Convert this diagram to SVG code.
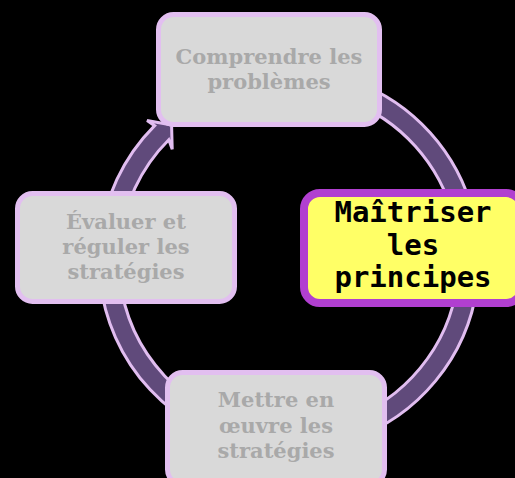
<svg xmlns="http://www.w3.org/2000/svg" width="515" height="478" viewBox="0 0 515 478">
<style>
.arrow{fill:#604a7b;stroke:#e1bdf0;stroke-width:3;stroke-linejoin:miter}
.box{fill:#d9d9d9;stroke:#e2bff0;stroke-width:5}
.lbl{font-family:"DejaVu Serif","Liberation Serif",serif;font-weight:bold;font-size:21px;fill:#a9a9a9;text-anchor:middle}
.hbox{fill:#ffff66;stroke:#b13fd0;stroke-width:8}
.hlbl{font-family:"DejaVu Sans Mono","Liberation Mono",monospace;font-weight:bold;font-size:29px;fill:#000;text-anchor:middle}
</style>
<rect width="515" height="478" fill="#000"/>
<g id="connectors">
<path class="arrow" d="M99.72 243.44 A190 190 0 0 1 154.65 125.65 L147.06 120.52 L171.57 124.91 L172.22 149.18 L168.79 139.79 A170 170 0 0 0 119.65 245.18 Z"/>
<path class="arrow" d="M353.98 81.46 A190 190 0 0 1 473.36 214.04 L481.66 210.17 L465.28 228.92 L444.14 216.97 L453.95 218.87 A170 170 0 0 0 347.14 100.25 Z"/>
<path class="arrow" d="M477.15 286.44 A190 190 0 0 1 350.86 439.65 L355.43 447.59 L335.33 432.90 L345.38 410.80 L344.35 420.74 A170 170 0 0 0 457.35 283.66 Z"/>
<path class="arrow" d="M256.01 447.11 A190 190 0 0 1 100.04 279.86 L91.28 282.53 L110.11 266.25 L129.38 281.02 L119.93 277.77 A170 170 0 0 0 259.48 427.42 Z"/>
</g>
<g id="node-comprendre">
<rect class="box" x="158.5" y="14.5" width="221" height="110" rx="15"/>
<text class="lbl" x="269" y="64">Comprendre les</text>
<text class="lbl" x="269" y="89">problèmes</text>
</g>
<g id="node-maitriser">
<rect class="hbox" x="304" y="193" width="218" height="110" rx="16"/>
<text class="hlbl" x="413" y="222">Maîtriser</text>
<text class="hlbl" x="413" y="254.5">les</text>
<text class="hlbl" x="413" y="287">principes</text>
</g>
<g id="node-mettre">
<rect class="box" x="167.5" y="372.5" width="217" height="112" rx="15"/>
<text class="lbl" x="276" y="407">Mettre en</text>
<text class="lbl" x="276" y="432.5">œuvre les</text>
<text class="lbl" x="276" y="458">stratégies</text>
</g>
<g id="node-evaluer">
<rect class="box" x="17.5" y="193.5" width="217" height="108" rx="15"/>
<text class="lbl" x="126" y="229">Évaluer et</text>
<text class="lbl" x="126" y="254">réguler les</text>
<text class="lbl" x="126" y="279">stratégies</text>
</g>
</svg>
